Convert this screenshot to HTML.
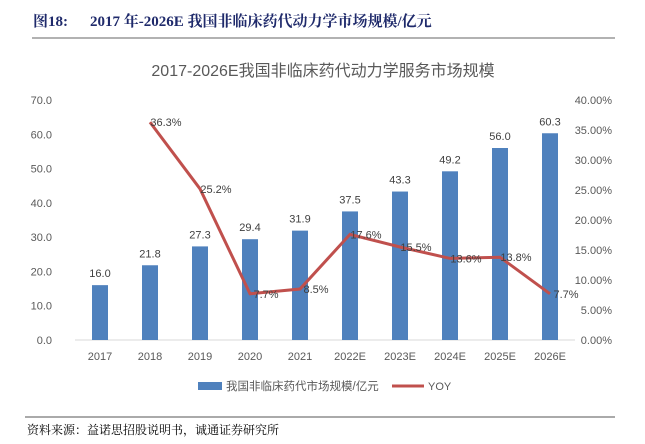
<!DOCTYPE html>
<html><head><meta charset="utf-8"><style>
body{margin:0;width:645px;height:439px;background:#fff;overflow:hidden;font-family:"Liberation Sans","Noto Sans CJK SC",sans-serif}
</style></head><body>
<svg width="645" height="439">
<text x="33" y="26" font-family="Liberation Serif, Noto Serif CJK SC, serif" font-weight="bold" font-size="15" fill="#1f2a6b"><tspan>图18:</tspan><tspan x="90">2017 年-2026E 我国非临床药代动力学市场规模/亿元</tspan></text>
<line x1="32" y1="38" x2="615" y2="38" stroke="#999" stroke-width="1.5"/>
<text x="323" y="76" text-anchor="middle" font-size="16" fill="#595959">2017-2026E我国非临床药代动力学服务市场规模</text>
<g id="chart"></g>
<rect x="198" y="382" width="24" height="8" fill="#4f81bd"/>
<text x="226" y="390" font-size="11.5" fill="#595959">我国非临床药代市场规模/亿元</text>
<line x1="392" y1="386" x2="424" y2="386" stroke="#c0504d" stroke-width="3"/>
<text x="428" y="390" font-size="11" fill="#595959">YOY</text>
<line x1="25" y1="417" x2="615" y2="417" stroke="#555" stroke-width="1"/>
<text x="27" y="434" font-family="Liberation Serif, Noto Serif CJK SC, serif" font-size="12" fill="#000">资料来源：益诺思招股说明书，诚通证券研究所</text>
</svg>
<script>
const categories=["2017","2018","2019","2020","2021","2022E","2023E","2024E","2025E","2026E"];
const marketSize=[16.0,21.8,27.3,29.4,31.9,37.5,43.3,49.2,56.0,60.3];
const yoy=[null,36.3,25.2,7.7,8.5,17.6,15.5,13.6,13.8,7.7];
const leftTicks=[0,10,20,30,40,50,60,70];
const rightTicks=[0,5,10,15,20,25,30,35,40];
const NS="http://www.w3.org/2000/svg";
const g=document.getElementById('chart');
const x0=75,band=50,yTop=100,yBot=340;
const xC=i=>x0+band*i+band/2;
const yL=v=>yBot-(v/70)*(yBot-yTop);
const yR=v=>yBot-(v/40)*(yBot-yTop);
function mk(t,a,txt){const e=document.createElementNS(NS,t);for(const k in a)e.setAttribute(k,a[k]);if(txt!=null)e.textContent=txt;g.appendChild(e);return e;}
const ax=mk('line',{x1:x0,y1:yBot,x2:x0+band*10,y2:yBot,stroke:'#d9d9d9'});


leftTicks.forEach(v=>{const t=mk('text',{x:52,y:yL(v)+4,'text-anchor':'end','font-size':11,fill:'#595959'},v.toFixed(1));

});
rightTicks.forEach(v=>{const t=mk('text',{x:612,y:yR(v)+4,'text-anchor':'end','font-size':11,fill:'#595959'},v.toFixed(2)+'%');

});
categories.forEach((c,i)=>{const t=mk('text',{x:xC(i),y:360,'text-anchor':'middle','font-size':11,fill:'#595959'},c);

});
marketSize.forEach((v,i)=>{const r=mk('rect',{x:xC(i)-8,y:yL(v),width:16,height:yBot-yL(v),fill:'#4f81bd'});


const t=mk('text',{x:xC(i),y:yL(v)-8,'text-anchor':'middle','font-size':11,fill:'#404040'},v.toFixed(1));

});
let pts=[];yoy.forEach((v,i)=>{if(v!=null)pts.push(xC(i)+','+yR(v));});
const pl=mk('polyline',{points:pts.join(' '),fill:'none',stroke:'#c0504d','stroke-width':3});


yoy.forEach((v,i)=>{if(v==null)return;const t=mk('text',{x:xC(i)+16,y:yR(v)+4,'text-anchor':'middle','font-size':11,fill:'#404040'},v.toFixed(1)+'%');

});
</script>
</body></html>
